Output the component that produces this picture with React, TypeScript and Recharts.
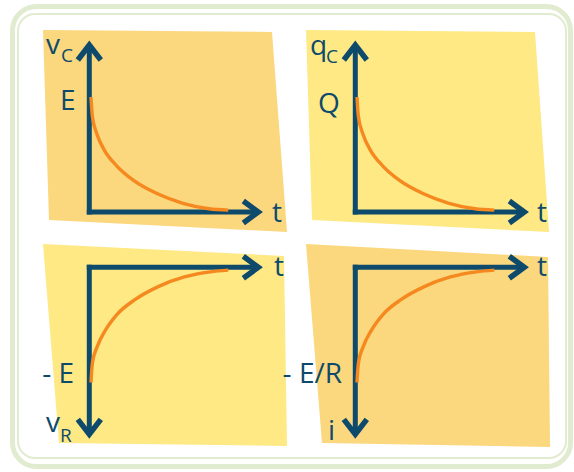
import React from "react";
import { LineChart, Line, XAxis, YAxis } from "recharts";

// time samples and normalised curve values (E, Q, E/R = 1)
const decayT = [0, 0.1, 0.45, 0.95, 1.85, 3.1, 4.8, 6.7, 8.6, 10];
const vcValues = [1, 0.83, 0.67, 0.54, 0.4, 0.27, 0.155, 0.07, 0.022, 0.01];
const qcValues = [1, 0.83, 0.67, 0.54, 0.4, 0.27, 0.155, 0.07, 0.022, 0.01];
const riseT = [0, 0.1, 0.5, 1.0, 1.9, 3.2, 4.9, 6.8, 8.7, 10];
const vrValues = [-1, -0.83, -0.67, -0.55, -0.4, -0.27, -0.155, -0.07, -0.025, -0.01];
const iValues = [-1, -0.83, -0.67, -0.55, -0.4, -0.27, -0.155, -0.07, -0.025, -0.01];

const toRows = (ts: number[], vs: number[]) => ts.map((t, i) => ({ t, v: vs[i] }));

const AXIS = "#0d4a6b";
const CURVE = "#f5891f";
const DARK = "#fbd77e";
const LIGHT = "#fee985";
const FRAME = "#e1ebd0";
const FONT = "'Open Sans', sans-serif";
const PAD = 6;

interface CurveProps {
  rows: { t: number; v: number }[];
  x0: number;
  x1: number;
  yTop: number;
  yBottom: number;
  domain: [number, number];
}

// one orange curve, placed so its plot box sits on the drawn axes
const Curve = ({ rows, x0, x1, yTop, yBottom, domain }: CurveProps) => (
  <div style={{ position: "absolute", left: x0 - PAD, top: yTop - PAD }}>
    <LineChart
      width={x1 - x0 + PAD * 2}
      height={yBottom - yTop + PAD * 2}
      data={rows}
      margin={{ top: PAD, right: PAD, bottom: PAD, left: PAD }}
    >
      <XAxis type="number" dataKey="t" domain={[0, 10]} hide />
      <YAxis type="number" domain={domain} hide />
      <Line
        type="monotone"
        dataKey="v"
        stroke={CURVE}
        strokeWidth={3.4}
        dot={false}
        isAnimationActive={false}
      />
    </LineChart>
  </div>
);

const Chevron = ({ pts }: { pts: string }) => (
  <polyline points={pts} fill="none" stroke={AXIS} strokeWidth={5.5} strokeLinejoin="miter" />
);

// axes for one panel; the vertical arrow points up or down
const Axes = ({ ox, oy, up }: { ox: number; oy: number; up: boolean }) => {
  const w = up ? -1 : 1;
  const tipY = oy + w * 170;
  const tipX = ox + 172;
  return (
    <g>
      <line x1={ox} y1={oy - w * 2.5} x2={ox} y2={tipY - w * 3} stroke={AXIS} strokeWidth={5} />
      <line x1={ox - 2.5} y1={oy} x2={tipX - 3} y2={oy} stroke={AXIS} strokeWidth={5} />
      <Chevron pts={`${ox - 11.5},${tipY - w * 18} ${ox},${tipY - w * 3} ${ox + 11.5},${tipY - w * 18}`} />
      <Chevron pts={`${tipX - 18},${oy - 11} ${tipX - 3},${oy} ${tipX - 18},${oy + 11}`} />
    </g>
  );
};

const Label = ({ x, y, size = 28, anchor = "start", children }: any) => (
  <text x={x} y={y} fontSize={size} fontFamily={FONT} fill={AXIS} textAnchor={anchor}>
    {children}
  </text>
);

export default function App() {
  return (
    <div style={{ position: "fixed", left: 0, top: 0, width: 574, height: 472, background: "#fff" }}>
      <svg width={574} height={472} style={{ position: "absolute", left: 0, top: 0 }}>
        <rect x={12.5} y={6.5} width={558} height={460} rx={24} fill="#fff" stroke={FRAME} strokeWidth={5} />
        <rect x={18} y={14} width={548} height={444} rx={17} fill="#fff" stroke={FRAME} strokeWidth={2} />

        <polygon points="43,30 272,32 287,232 49,220" fill={DARK} />
        <polygon points="306,30 535,32 549,232 312,220" fill={LIGHT} />
        <polygon points="43,244 284,256 287,446 59,443" fill={LIGHT} />
        <polygon points="306,244 548,257 550,447 322,443" fill={DARK} />

        <Axes ox={89.3} oy={212} up />
        <Axes ox={355.3} oy={212} up />
        <Axes ox={89.3} oy={267.3} up={false} />
        <Axes ox={355.3} oy={267.3} up={false} />

        <Label x={46} y={54}>v</Label>
        <Label x={61} y={62} size={19}>C</Label>
        <Label x={60} y={110}>E</Label>
        <Label x={272} y={222}>t</Label>

        <Label x={310} y={55}>q</Label>
        <Label x={326} y={63} size={19}>C</Label>
        <Label x={318} y={113}>Q</Label>
        <Label x={537} y={222}>t</Label>

        <Label x={274} y={276}>t</Label>
        <Label x={74} y={383} anchor="end">- E</Label>
        <Label x={46} y={432}>v</Label>
        <Label x={60} y={442} size={19}>R</Label>

        <Label x={537} y={276}>t</Label>
        <Label x={342} y={383} anchor="end">- E/R</Label>
        <Label x={328} y={440}>i</Label>
      </svg>

      <Curve rows={toRows(decayT, vcValues)} x0={90.7} x1={228} yTop={96.7} yBottom={211} domain={[0, 1]} />
      <Curve rows={toRows(decayT, qcValues)} x0={356.7} x1={494} yTop={96.7} yBottom={211} domain={[0, 1]} />
      <Curve rows={toRows(riseT, vrValues)} x0={90.7} x1={228} yTop={268.5} yBottom={382} domain={[-1, 0]} />
      <Curve rows={toRows(riseT, iValues)} x0={356.7} x1={494} yTop={268.5} yBottom={382} domain={[-1, 0]} />
    </div>
  );
}
